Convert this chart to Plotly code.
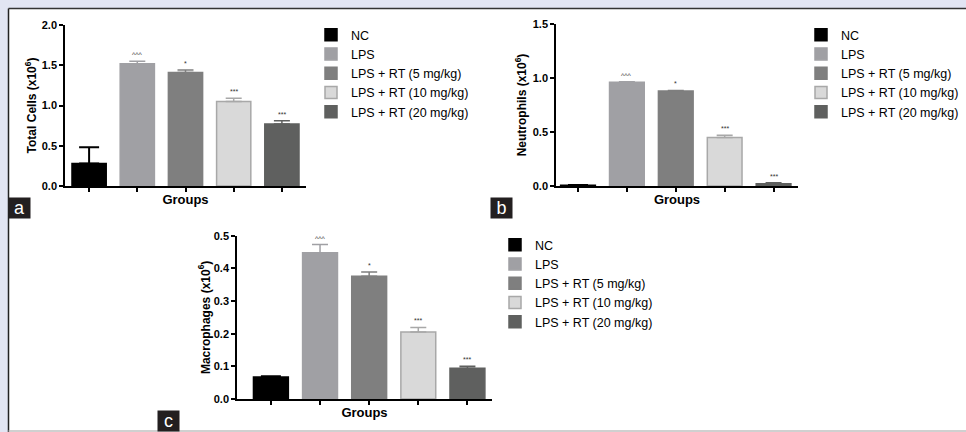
import plotly.graph_objects as go

groups = ["NC", "LPS", "LPS + RT (5 mg/kg)", "LPS + RT (10 mg/kg)", "LPS + RT (20 mg/kg)"]
total_cells = [0.28, 1.52, 1.41, 1.05, 0.77]
total_err = [0.20, 0.03, 0.03, 0.04, 0.04]
neutrophils = [0.008, 0.96, 0.88, 0.45, 0.02]
neutrophils_err = [0.002, 0.005, 0.005, 0.02, 0.01]
macrophages = [0.067, 0.448, 0.376, 0.205, 0.094]
macrophages_err = [0.003, 0.025, 0.013, 0.014, 0.006]
significance = ["", "^^^", "*", "***", "***"]

fill_colors = ["#000000", "#a0a0a4", "#7f7f7f", "#d9d9d9", "#5f605f"]
line_colors = ["#000000", "#a0a0a4", "#7f7f7f", "#a8a8a8", "#5f605f"]

W, H = 966, 432
def px(x):
    return x / W
def py(y):
    return 1 - y / H

panels = [
    dict(vals=total_cells, errs=total_err, title="Total Cells (x10<sup>6</sup>)",
         xd=[65, 306], yd=[186, 25], yr=[0, 2.0], dt=0.5, xr=[-0.5, 4.5], so=3,
         legend="legend", lx=311, ly=20, label="a", labx=8, laby=197),
    dict(vals=neutrophils, errs=neutrophils_err, title="Neutrophils (x10<sup>6</sup>)",
         xd=[556, 798], yd=[186, 24], yr=[0, 1.5], dt=0.5, xr=[-0.45, 4.5], so=4,
         legend="legend2", lx=801, ly=20, label="b", labx=490, laby=197),
    dict(vals=macrophages, errs=macrophages_err, title="Macrophages (x10<sup>6</sup>)",
         xd=[237, 492], yd=[399, 235.7], yr=[0, 0.5], dt=0.1, xr=[-0.69, 4.5], so=1,
         legend="legend3", lx=495, ly=230, label="c", labx=157, laby=410),
]

FONT = "Liberation Sans, Arial"
fig = go.Figure()
annotations = []
layout_axes = {}
for p_i, p in enumerate(panels):
    sfx = "" if p_i == 0 else str(p_i + 1)
    xa, ya = "x" + sfx, "y" + sfx
    for g_i, g in enumerate(groups):
        v, e = p["vals"][g_i], p["errs"][g_i]
        fig.add_trace(go.Bar(
            x=[g], y=[v], name=g, width=0.71,
            marker=dict(color=fill_colors[g_i], line=dict(color=line_colors[g_i], width=1.5)),
            error_y=dict(type="data", symmetric=False, array=[e], arrayminus=[0],
                         color=line_colors[g_i], thickness=2 if g_i == 0 else 1.5,
                         width=10 if g_i == 0 else 8),
            xaxis=xa, yaxis=ya, legend=p["legend"], showlegend=True, hoverinfo="skip",
        ))
        if significance[g_i]:
            annotations.append(dict(
                x=g, y=v + e, xref=xa, yref=ya, text=significance[g_i], showarrow=False,
                yanchor="bottom", yshift=1, font=dict(size=7, color="#333333", family=FONT)))
    ticks = []
    t = 0.0
    while t <= p["yr"][1] + 1e-9:
        ticks.append(round(t, 2))
        t += p["dt"]
    layout_axes["xaxis" + sfx] = dict(
        domain=[px(p["xd"][0]), px(p["xd"][1])], anchor=ya, type="category",
        categoryorder="array", categoryarray=groups, range=p["xr"], automargin=False,
        showticklabels=False, ticks="outside", ticklen=4, tickwidth=1.5, tickcolor="#000",
        showline=True, linecolor="#000", linewidth=1.5, showgrid=False, zeroline=False,
        title=dict(text="<b>Groups</b>", font=dict(size=13, color="#000", family=FONT),
                   standoff=4),
    )
    layout_axes["yaxis" + sfx] = dict(
        domain=[py(p["yd"][0]), py(p["yd"][1])], anchor=xa, range=p["yr"], automargin=False,
        tickvals=ticks, ticktext=["<b>%.1f</b>" % tv for tv in ticks],
        ticks="outside", ticklen=4, tickwidth=1.5, tickcolor="#000",
        tickfont=dict(size=11, color="#000", family=FONT),
        showline=True, linecolor="#000", linewidth=1.5, showgrid=False, zeroline=False,
        title=dict(text="<b>" + p["title"] + "</b>", font=dict(size=12, color="#000",
                   family=FONT), standoff=p["so"]),
    )
    layout_axes[p["legend"]] = dict(
        x=px(p["lx"]), y=py(p["ly"]), xanchor="left", yanchor="top",
        font=dict(size=12.5, color="#000", family=FONT),
        bgcolor="rgba(0,0,0,0)", traceorder="normal",
    )
    annotations.append(dict(
        x=px(p["labx"]), y=py(p["laby"]), xref="paper", yref="paper", xanchor="left",
        yanchor="top", text=p["label"], showarrow=False, width=21, height=20, borderpad=0,
        bgcolor="#231f20", font=dict(size=18, color="#ffffff", family=FONT),
    ))

shapes = [
    dict(type="rect", xref="paper", yref="paper", x0=0, x1=px(8), y0=0, y1=1,
         fillcolor="#e2e5f3", line=dict(width=0), layer="below"),
    dict(type="rect", xref="paper", yref="paper", x0=0, x1=1, y0=py(8), y1=1,
         fillcolor="#e2e5f3", line=dict(width=0), layer="below"),
    dict(type="line", xref="paper", yref="paper", x0=px(8.5), x1=1, y0=py(8.5), y1=py(8.5),
         line=dict(color="#333333", width=1.5)),
    dict(type="line", xref="paper", yref="paper", x0=px(8.5), x1=px(8.5), y0=0, y1=py(8.5),
         line=dict(color="#222222", width=1.5)),
    dict(type="line", xref="paper", yref="paper", x0=px(8.5), x1=1, y0=py(431), y1=py(431),
         line=dict(color="#c0c0c0", width=1.5)),
]

fig.update_layout(
    width=W, height=H, margin=dict(l=0, r=0, t=0, b=0, autoexpand=False),
    paper_bgcolor="#ffffff", plot_bgcolor="rgba(0,0,0,0)",
    barmode="overlay", annotations=annotations, shapes=shapes,
    font=dict(family=FONT, color="#000"),
    **layout_axes,
)
fig.write_html("out.html", config={"displayModeBar": False},
               post_script="document.body.style.margin='0';document.body.style.overflow='hidden';")
